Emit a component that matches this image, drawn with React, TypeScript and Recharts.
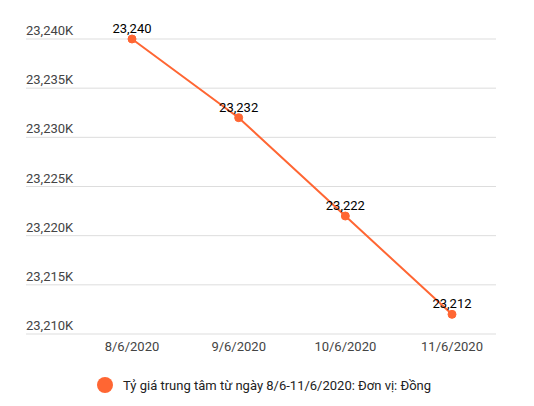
import React from "react";
import { CartesianGrid, LabelList, Line, LineChart, XAxis, YAxis } from "recharts";

const dates = ["8/6/2020", "9/6/2020", "10/6/2020", "11/6/2020"];
const rates = [23240, 23232, 23222, 23212];
const yTicks = [23210, 23215, 23220, 23225, 23230, 23235, 23240];
const seriesName = "Tỷ giá trung tâm từ ngày 8/6-11/6/2020: Đơn vị: Đồng";

const data = dates.map((d, i) => ({ date: d, rate: rates[i] }));

const COLOR = "#ff6633";
const FONT = "Roboto, sans-serif";

const fmt = (v: number) => v.toLocaleString("en-US");

const YTick = (props: any) => {
  const { x, y, payload } = props;
  return (
    <text x={x} y={y - 4} textAnchor="start" fontSize={13} fill="#444" fontFamily={FONT}>
      {fmt(payload.value)}K
    </text>
  );
};

const PointLabel = (props: any) => {
  const { x, y, value } = props;
  return (
    <text x={x} y={y - 6} textAnchor="middle" fontSize={13} fill="#000" fontFamily={FONT}>
      {fmt(value)}
    </text>
  );
};

export default function App() {
  return (
    <div style={{ position: "absolute", left: 0, top: 0, width: 534, height: 406, fontFamily: FONT }}>
      <LineChart width={534} height={406} data={data} margin={{ top: 39, right: 38, bottom: 42, left: 0 }}>
        <CartesianGrid vertical={false} stroke="#dddddd" />
        <XAxis
          dataKey="date"
          axisLine={false}
          tickLine={false}
          padding={{ left: 106, right: 44 }}
          height={30}
          tick={{ fontSize: 13, fill: "#444", fontFamily: FONT }}
        />
        <YAxis
          width={26}
          domain={[23210, 23240]}
          ticks={yTicks}
          axisLine={false}
          tickLine={false}
          tickMargin={0}
          tickSize={0}
          tick={<YTick />}
        />
        <Line
          dataKey="rate"
          name={seriesName}
          stroke={COLOR}
          strokeWidth={2}
          dot={{ r: 4, fill: COLOR, stroke: COLOR, strokeWidth: 1 }}
          isAnimationActive={false}
        >
          <LabelList dataKey="rate" content={<PointLabel />} />
        </Line>
      </LineChart>
      <div
        style={{
          position: "absolute",
          left: 97,
          top: 377,
          display: "flex",
          alignItems: "center",
          fontSize: 13,
          color: "#222",
          whiteSpace: "nowrap",
        }}
      >
        <span
          style={{ display: "inline-block", width: 16, height: 16, borderRadius: 8, background: COLOR, marginRight: 10 }}
        />
        <span>{seriesName}</span>
      </div>
    </div>
  );
}
